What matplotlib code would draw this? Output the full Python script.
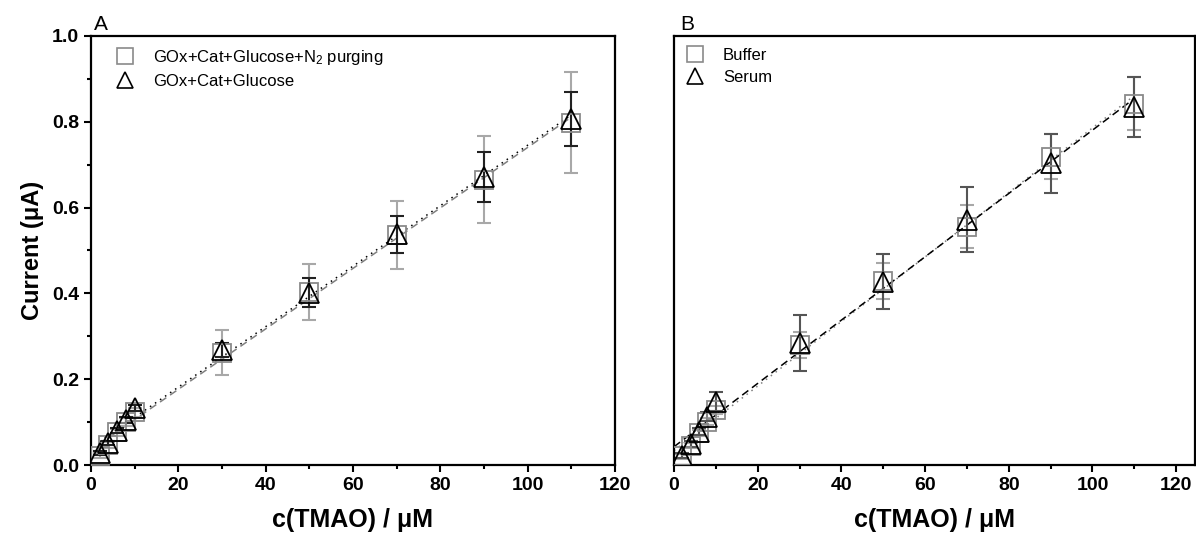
import numpy as np
import matplotlib
matplotlib.use("Agg")
import matplotlib.pyplot as plt
from matplotlib.lines import Line2D
from matplotlib.ticker import MultipleLocator

plt.rcParams["font.family"] = ["Liberation Sans", "DejaVu Sans"]
plt.rcParams["mathtext.fontset"] = "custom"
plt.rcParams["mathtext.rm"] = "Liberation Sans"
plt.rcParams["mathtext.it"] = "Liberation Sans:italic"
plt.rcParams["mathtext.bf"] = "Liberation Sans:bold"

# concentrations (uM)
conc = [2, 4, 6, 8, 10, 30, 50, 70, 90, 110]

# panel A
a_n2 = [0.022, 0.047, 0.076, 0.100, 0.123, 0.262, 0.403, 0.536, 0.665, 0.798]
a_n2_err = [0.006, 0.007, 0.008, 0.009, 0.010, 0.053, 0.066, 0.080, 0.101, 0.117]
a_air = [0.028, 0.052, 0.080, 0.105, 0.133, 0.268, 0.402, 0.538, 0.672, 0.806]
a_air_err = [0.004, 0.005, 0.006, 0.006, 0.008, 0.016, 0.033, 0.043, 0.058, 0.063]

# panel B
b_buf = [0.020, 0.045, 0.075, 0.101, 0.128, 0.280, 0.429, 0.555, 0.719, 0.842]
b_buf_err = [0.005, 0.006, 0.007, 0.008, 0.010, 0.031, 0.043, 0.050, 0.052, 0.062]
b_ser = [0.022, 0.048, 0.078, 0.113, 0.148, 0.284, 0.427, 0.572, 0.703, 0.835]
b_ser_err = [0.006, 0.007, 0.008, 0.010, 0.023, 0.066, 0.064, 0.075, 0.069, 0.070]

labels_a = ["GOx+Cat+Glucose+N$_2$ purging", "GOx+Cat+Glucose"]
labels_b = ["Buffer", "Serum"]


def draw_series(ax, x, y, err, marker, mcolor, ecolor, ms):
    ax.errorbar(x, y, yerr=err, fmt="none", ecolor=ecolor, elinewidth=1.5,
                capsize=5, capthick=1.5, zorder=2)
    ax.plot(x, y, linestyle="none", marker=marker, ms=ms, mfc="none",
            mec=mcolor, mew=1.3, zorder=3)


def fit_line(ax, x, y, x0, x1, color, ls):
    k, b = np.polyfit(x, y, 1)
    xs = np.array([x0, x1])
    ax.plot(xs, k * xs + b, color=color, linestyle=ls, lw=1.1, zorder=1)


def style_axes(ax, show_y):
    ax.set_xlim(0, 120)
    ax.set_ylim(0, 1.0)
    ax.xaxis.set_major_locator(MultipleLocator(20))
    ax.xaxis.set_minor_locator(MultipleLocator(10))
    ax.yaxis.set_major_locator(MultipleLocator(0.2))
    ax.yaxis.set_minor_locator(MultipleLocator(0.1))
    for s in ax.spines.values():
        s.set_linewidth(1.6)
    ax.tick_params(which="major", direction="out", length=5, width=1.5,
                   labelsize=14, top=False, right=False)
    ax.tick_params(which="minor", direction="out", length=3, width=1.5,
                   top=False, right=False)
    for lab in ax.get_xticklabels() + ax.get_yticklabels():
        lab.set_fontweight("bold")
    if not show_y:
        ax.tick_params(axis="y", which="both", left=False, labelleft=False)
    ax.set_xlabel("c(TMAO) / \u03bcM", fontsize=18, fontweight="bold", labelpad=10)


fig = plt.figure(figsize=(11.96, 5.51), dpi=100)
ax1 = fig.add_axes([91 / 1196, 1 - 465 / 551, 524 / 1196, 429 / 551])
ax2 = fig.add_axes([674 / 1196, 1 - 465 / 551, 521 / 1196, 429 / 551])

# A
fit_line(ax1, conc, a_n2, 2, 110, "#808080", (0, (5, 3)))
fit_line(ax1, conc, a_air, 2, 110, "black", (0, (1, 3)))
draw_series(ax1, conc, a_n2, a_n2_err, "s", "#8a8a8a", "#a8a8a8", 13)
draw_series(ax1, conc, a_air, a_air_err, "^", "black", "#222222", 14)
style_axes(ax1, True)
ax1.set_ylabel("Current (\u03bcA)", fontsize=17, fontweight="bold", labelpad=6)

# B
fit_line(ax2, conc, b_buf, 0, 110, "#808080", (0, (1, 3)))
fit_line(ax2, conc, b_ser, 0, 110, "black", (0, (5, 3)))
draw_series(ax2, conc, b_buf, b_buf_err, "s", "#8a8a8a", "#a8a8a8", 13)
draw_series(ax2, conc, b_ser, b_ser_err, "^", "black", "#555555", 14)
style_axes(ax2, False)
ax2.set_xlim(0, 124.5)


def legend(ax, labels, x_anchor):
    handles = [
        Line2D([], [], ls="none", marker="s", ms=11, mfc="none", mec="#8a8a8a", mew=1.2),
        Line2D([], [], ls="none", marker="^", ms=12, mfc="none", mec="black", mew=1.2),
    ]
    ax.legend(handles, labels, loc="upper left", frameon=False, fontsize=12,
              handletextpad=0.7, labelspacing=0.45, borderaxespad=0.3,
              bbox_to_anchor=(x_anchor, 1.0))


legend(ax1, labels_a, 0.01)
legend(ax2, labels_b, -0.015)

fig.text(94 / 1196, 1 - 30 / 551, "A", fontsize=15)
fig.text(680 / 1196, 1 - 30 / 551, "B", fontsize=15)

fig.savefig("out.png", dpi=100)
